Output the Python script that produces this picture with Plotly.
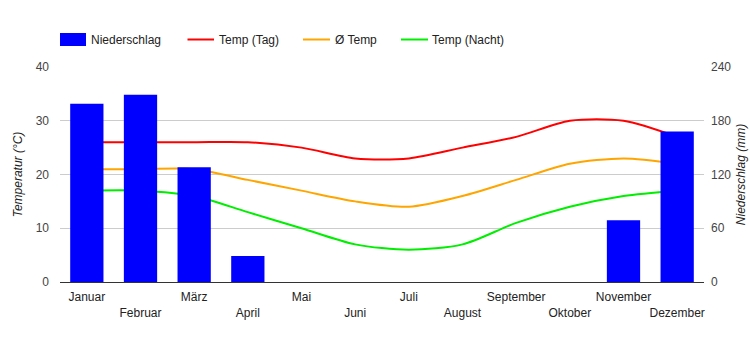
import plotly.graph_objects as go

months = ["Januar", "Februar", "März", "April", "Mai", "Juni", "Juli",
          "August", "September", "Oktober", "November", "Dezember"]
niederschlag = [199, 209, 128, 29, 0, 0, 0, 0, 0, 0, 69, 168]
temp_tag = [26, 26, 26, 26, 25, 23, 23, 25, 27, 30, 30, 27]
temp_avg = [21, 21, 21, 19, 17, 15, 14, 16, 19, 22, 23, 22]
temp_nacht = [17, 17, 16, 13, 10, 7, 6, 7, 11, 14, 16, 17]

series_names = ["Niederschlag", "Temp (Tag)", "Ø Temp", "Temp (Nacht)"]
series_colors = ["#0000ff", "#ff0000", "#ffa500", "#00ee00"]

ticktext = [m if i % 2 == 0 else "<br>" + m for i, m in enumerate(months)]
FONT = "Liberation Sans, Arial, sans-serif"

# plot area in pixels
L, R, T, B = 60, 704, 67, 282
W, H = 750, 350


def px(x):
    return (x - L) / (R - L)


def py(y):
    return (B - y) / (B - T)


fig = go.Figure()
fig.add_trace(go.Bar(x=months, y=niederschlag, name=series_names[0], yaxis="y2",
                     marker=dict(color=series_colors[0], line=dict(width=0)), width=0.62))
for name, col, vals in zip(series_names[1:], series_colors[1:], [temp_tag, temp_avg, temp_nacht]):
    fig.add_trace(go.Scatter(x=months, y=vals, name=name, mode="lines",
                             line=dict(color=col, width=2, shape="spline", smoothing=0.8)))

# custom legend (matching reference layout)
shapes = []
annotations = []
ly = 39.5
shapes.append(dict(type="rect", xref="paper", yref="paper", x0=px(60), x1=px(86),
                   y0=py(46), y1=py(33), fillcolor=series_colors[0], line=dict(width=0)))
annotations.append(dict(xref="paper", yref="paper", x=px(89), y=py(ly), text=series_names[0],
                        showarrow=False, xanchor="left", yanchor="middle",
                        font=dict(size=12, color="#222222")))
for (x0, x1, tx), name, col in zip([(187.5, 214, 217), (303, 330, 333), (401, 428, 430)],
                                   series_names[1:], series_colors[1:]):
    shapes.append(dict(type="line", xref="paper", yref="paper", x0=px(x0), x1=px(x1),
                       y0=py(ly), y1=py(ly), line=dict(color=col, width=2)))
    annotations.append(dict(xref="paper", yref="paper", x=px(tx), y=py(ly), text=name,
                            showarrow=False, xanchor="left", yanchor="middle",
                            font=dict(size=12, color="#222222")))

fig.update_layout(
    width=W, height=H,
    margin=dict(l=L, r=W - R, t=T, b=H - B, autoexpand=False),
    paper_bgcolor="white", plot_bgcolor="white",
    font=dict(family=FONT, size=12, color="#222222"),
    showlegend=False,
    shapes=shapes,
    annotations=annotations,
    xaxis=dict(type="category", range=[-0.5, 11.5], tickmode="array",
               tickvals=months, ticktext=ticktext, showgrid=False, ticks="",
               tickfont=dict(size=12, color="#222222"), tickangle=0,
               ticklabelstandoff=6, automargin=False),
    yaxis=dict(range=[0, 40], dtick=10, showgrid=True, gridcolor="#cccccc",
               zeroline=True, zerolinecolor="#333333", zerolinewidth=1,
               tickfont=dict(size=12, color="#444444"), ticks="",
               ticklabelstandoff=10, automargin=False,
               title=dict(text="<i>Temperatur (°C)</i>", font=dict(size=12, color="#222222"),
                          standoff=10)),
    yaxis2=dict(range=[0, 240], dtick=60, overlaying="y", side="right",
                showgrid=False, zeroline=False, ticks="",
                tickfont=dict(size=12, color="#444444"),
                ticklabelstandoff=6, automargin=False,
                title=dict(text="<i>Niederschlag (mm)</i>", font=dict(size=12, color="#222222"),
                           standoff=6)),
)

fig.write_html("out.html")
